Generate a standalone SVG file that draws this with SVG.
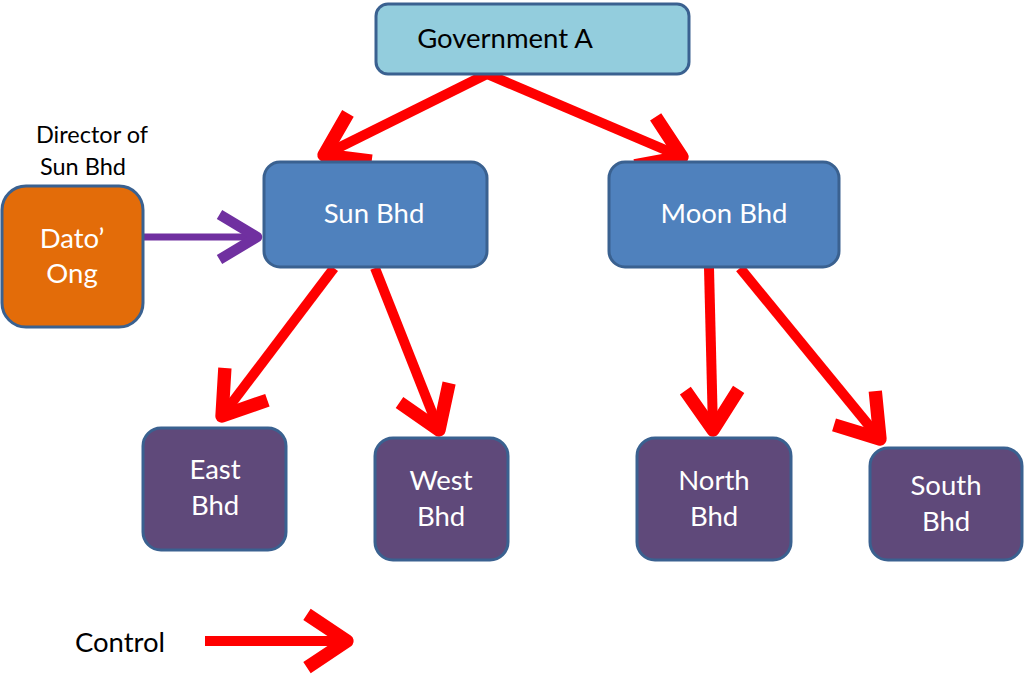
<svg xmlns="http://www.w3.org/2000/svg" width="1024" height="680" viewBox="0 0 1024 680">
<style>
  text { font-family: Lato, "Open Sans", "Liberation Sans", sans-serif; text-anchor: middle; }
  .box { stroke: #3A6190; stroke-width: 3; }
  .wt { fill: #FFFFFF; font-size: 27.5px; }
  .bk { fill: #000000; }
  .ctl { stroke: #FF0000; stroke-width: 10; fill: none; }
  .own { stroke: #7030A0; stroke-width: 7; fill: none; }
</style>
<defs>
  <marker id="redHead" markerUnits="userSpaceOnUse" orient="auto" refX="0" refY="0" markerWidth="80" markerHeight="80" viewBox="-40 -30 50 60" overflow="visible">
    <path d="M -30 -20 L 0 0 L -30 20" fill="none" stroke="#FF0000" stroke-width="10" stroke-linejoin="round"/>
  </marker>
  <marker id="purpleHead" markerUnits="userSpaceOnUse" orient="auto" refX="0" refY="0" markerWidth="60" markerHeight="60" viewBox="-30 -20 40 40" overflow="visible">
    <path d="M -25 -15 L 0 0 L -25 15" fill="none" stroke="#7030A0" stroke-width="7" stroke-linejoin="round"/>
  </marker>
</defs>

<g id="connectors">
  <line class="ctl" x1="487" y1="74" x2="324" y2="155" marker-end="url(#redHead)"/>
  <line class="ctl" x1="487" y1="74" x2="682" y2="157" marker-end="url(#redHead)"/>
  <line class="ctl" x1="334" y1="268" x2="222" y2="416" marker-end="url(#redHead)"/>
  <line class="ctl" x1="375" y1="268" x2="439" y2="430" marker-end="url(#redHead)"/>
  <line class="ctl" x1="709" y1="268" x2="713" y2="430" marker-end="url(#redHead)"/>
  <line class="ctl" x1="740" y1="268" x2="880" y2="439" marker-end="url(#redHead)"/>
  <line class="own" x1="143" y1="237" x2="257" y2="237" marker-end="url(#purpleHead)"/>
</g>

<g id="government-a">
  <rect class="box" x="376" y="4" width="313" height="70" rx="12" fill="#93CDDD"/>
  <text class="bk" x="505" y="48" font-size="27.5">Government A</text>
</g>

<g id="sun-bhd">
  <rect class="box" x="264" y="162" width="223" height="105" rx="16" fill="#4F81BD"/>
  <text class="wt" x="374" y="223">Sun Bhd</text>
</g>

<g id="moon-bhd">
  <rect class="box" x="609" y="162" width="230" height="105" rx="16" fill="#4F81BD"/>
  <text class="wt" x="724" y="223">Moon Bhd</text>
</g>

<g id="director-label">
  <text class="bk" x="92" y="143" font-size="23.5">Director of</text>
  <text class="bk" x="83" y="175" font-size="23.5">Sun Bhd</text>
</g>

<g id="dato-ong">
  <rect class="box" x="2" y="186" width="141" height="141" rx="24" fill="#E36C09"/>
  <text class="wt" x="72" y="248">Dato’</text>
  <text class="wt" x="72" y="283">Ong</text>
</g>

<g id="east-bhd">
  <rect class="box" x="143" y="428" width="143" height="122" rx="18" fill="#5F497A"/>
  <text class="wt" x="215" y="479">East</text>
  <text class="wt" x="215" y="515">Bhd</text>
</g>

<g id="west-bhd">
  <rect class="box" x="375" y="438" width="133" height="122" rx="18" fill="#5F497A"/>
  <text class="wt" x="441" y="490">West</text>
  <text class="wt" x="441" y="526">Bhd</text>
</g>

<g id="north-bhd">
  <rect class="box" x="637" y="438" width="154" height="122" rx="18" fill="#5F497A"/>
  <text class="wt" x="714" y="490">North</text>
  <text class="wt" x="714" y="526">Bhd</text>
</g>

<g id="south-bhd">
  <rect class="box" x="870" y="448" width="152" height="112" rx="18" fill="#5F497A"/>
  <text class="wt" x="946" y="495">South</text>
  <text class="wt" x="946" y="531">Bhd</text>
</g>

<g id="legend">
  <text class="bk" x="120" y="652" font-size="27.5">Control</text>
  <line class="ctl" x1="205" y1="641" x2="347" y2="641" marker-end="url(#redHead)"/>
</g>
</svg>
